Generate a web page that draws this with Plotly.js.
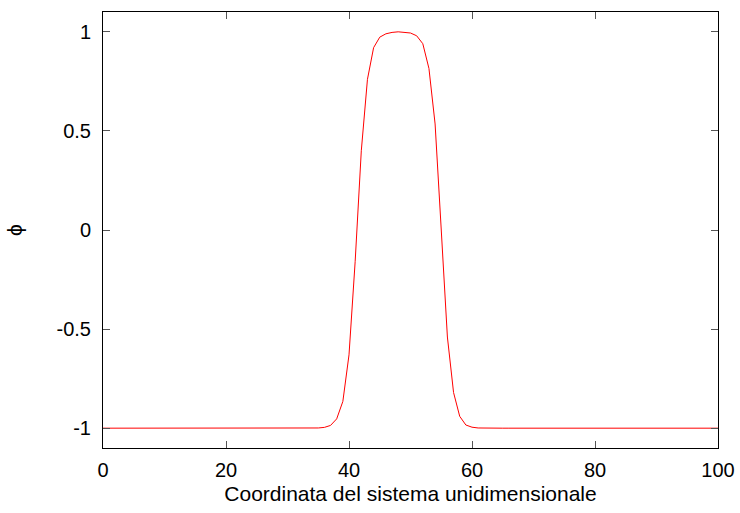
<!DOCTYPE html>
<html>
<head>
<meta charset="utf-8">
<script src="https://cdn.plot.ly/plotly-3.0.1.min.js"></script>
<style>html,body{margin:0;padding:0;background:#fff;}#chart{width:740px;height:513px;}</style>
</head>
<body>
<div id="chart"></div>
<script>
const xValues = [];
for (let i = 0; i <= 100; i++) xValues.push(i);
const phiLeft = [-1,-1,-1,-1,-1,-1,-1,-1,-1,-1,
  -1,-1,-1,-1,-1,-1,-1,-1,-1,-1,
  -1,-1,-1,-1,-1,-1,-1,-1,-1,-1,
  -1,-1,-1,-1,-1];
const phiMiddle = [-0.999,-0.996,-0.986,-0.953,-0.865,-0.63,-0.16,0.40,0.76,0.92,
  0.973,0.99,0.997,1.0,0.998,0.994,0.98,0.94,0.815,0.535,
  0.0,-0.54,-0.82,-0.94,-0.984,-0.995,-0.999];
const phiRight = [-1,-1,-1,-1,-1,-1,-1,-1,-1,-1,
  -1,-1,-1,-1,-1,-1,-1,-1,-1,-1,
  -1,-1,-1,-1,-1,-1,-1,-1,-1,-1,
  -1,-1,-1,-1,-1,-1,-1,-1,-1];
const phiValues = phiLeft.concat(phiMiddle, phiRight);
const xTicks = [0, 20, 40, 60, 80, 100];
const xTickLabels = ["0", "20", "40", "60", "80", "100"];
const yTicks = [-1, -0.5, 0, 0.5, 1];
const yTickLabels = ["-1", "-0.5", "0", "0.5", "1"];

const tickFont = {family: "Liberation Sans, Arial, sans-serif", size: 20, color: "#000"};
const titleFont = {family: "Liberation Sans, Arial, sans-serif", size: 21, color: "#000"};
const axisCommon = {
  showline: true, linecolor: "#000", linewidth: 1, mirror: "ticks",
  ticks: "inside", ticklen: 7, tickcolor: "#555", tickwidth: 1,
  showgrid: false, zeroline: false, tickfont: tickFont, tickmode: "array"
};
Plotly.newPlot("chart", [{
  x: xValues, y: phiValues, type: "scatter", mode: "lines",
  line: {color: "#ff0000", width: 1}
}], {
  width: 740, height: 513,
  margin: {l: 103, r: 22, t: 12, b: 65},
  paper_bgcolor: "#fff", plot_bgcolor: "#fff",
  showlegend: false, font: tickFont,
  xaxis: Object.assign({}, axisCommon, {
    range: [0, 100], tickvals: xTicks, ticktext: xTickLabels,
    ticklabelstandoff: 4,
    title: {text: "Coordinata del sistema unidimensionale", font: titleFont, standoff: 6}
  }),
  yaxis: Object.assign({}, axisCommon, {
    range: [-1.1, 1.1], tickvals: yTicks, ticktext: yTickLabels,
    ticklabelstandoff: 7,
    title: {text: "ϕ", font: titleFont, standoff: 28}
  })
}, {displayModeBar: false, staticPlot: true});
</script>
</body>
</html>
